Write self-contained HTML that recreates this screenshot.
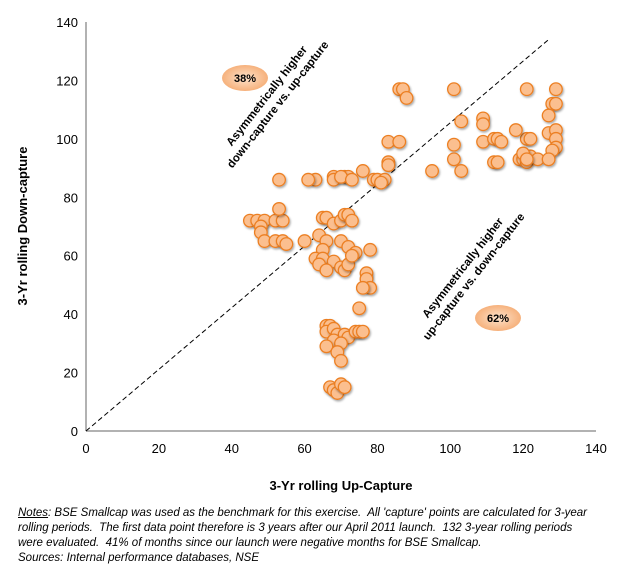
<!DOCTYPE html>
<html><head><meta charset="utf-8"><style>
body{margin:0;background:#fff;width:624px;height:583px;overflow:hidden;font-family:"Liberation Sans",sans-serif}
.notes{position:absolute;left:18px;top:506px;width:606px;font-size:11.5px;font-style:italic;line-height:15px;color:#000;white-space:nowrap}
</style></head><body>
<svg id="chart" width="624" height="500" style="position:absolute;left:0;top:0" font-family="Liberation Sans, sans-serif">
<defs><filter id="sh" x="-50%" y="-50%" width="200%" height="200%"><feDropShadow dx="1" dy="1.5" stdDeviation="1" flood-color="#000" flood-opacity="0.35"/></filter>
<radialGradient id="eg" cx="50%" cy="50%" r="50%"><stop offset="0" stop-color="#fde3cc"/><stop offset="1" stop-color="#f6b17c"/></radialGradient></defs>
<g id="axes"></g><g id="marks"></g><g id="ann"></g>
</svg>
<div class="notes"><u>Notes</u>: BSE Smallcap was used as the benchmark for this exercise.&nbsp; All 'capture' points are calculated for 3-year<br>rolling periods.&nbsp; The first data point therefore is 3 years after our April 2011 launch.&nbsp; 132 3-year rolling periods<br>were evaluated.&nbsp; 41% of months since our launch were negative months for BSE Smallcap.<br>Sources: Internal performance databases, NSE</div>
<script>
const xTicks=[0,20,40,60,80,100,120,140];
const yTicks=[0,20,40,60,80,100,120,140];
const upCapture=[86,87,88,101,121,129,128,129,127,103,109,109,83,86,101,109,112,113,114,121,122,118,127,129,129,129,128,101,112,113,119,120,121,122,124,127,95,103,120,121,
83,83,76,79,80,82,81,71,72,68,68,63,61,53,70,73,
45,47,49,48,48,52,54,53,49,52,54,55,60,64,65,66,68,70,71,72,73,66,65,70,72,74,78,63,65,68,70,71,72,73,64,66,77,77,78,76,75,
66,67,66,68,69,71,72,74,75,76,68,70,66,69,70,67,68,69,70,71];
const downCapture=[117,117,114,117,117,117,112,112,108,106,107,105,99,99,98,99,100,100,99,100,100,103,102,103,100,97,96,93,92,92,93,93,92,94,93,93,89,89,95,93,
92,91,89,86,86,86,85,87,87,87,86,86,86,86,87,86,
72,72,72,70,68,72,72,76,65,65,65,64,65,67,73,73,71,72,74,74,72,65,62,65,63,61,62,59,59,58,56,55,57,60,57,55,54,52,49,49,42,
36,36,34,35,33,33,32,34,34,34,31,30,29,27,24,15,14,13,16,15];
const diagEnd=[127,134];
const NS='http://www.w3.org/2000/svg';
const X0=86,X1=596,Y0=431,Y1=22;
const sx=v=>X0+(v-0)/140*(X1-X0);
const sy=v=>Y0-(v-0)/140*(Y0-Y1);
function mk(t,a,p){const e=document.createElementNS(NS,t);for(const k in a)e.setAttribute(k,a[k]);p.appendChild(e);return e;}
const ax=document.getElementById('axes');
let l=mk('line',{x1:X0,y1:Y1,x2:X0,y2:Y0,stroke:'#999','stroke-width':1.5},ax);


l=mk('line',{x1:X0,y1:Y0,x2:X1,y2:Y0,stroke:'#999','stroke-width':1.5},ax);


xTicks.forEach(v=>{const t=mk('text',{x:sx(v),y:Y0+22,'text-anchor':'middle','font-size':13},ax);t.textContent=v;

});
yTicks.forEach(v=>{const t=mk('text',{x:X0-8,y:sy(v)+5,'text-anchor':'end','font-size':13},ax);t.textContent=v;

});
let t=mk('text',{x:341,y:490,'text-anchor':'middle','font-size':13,'font-weight':'bold'},ax);t.textContent='3-Yr rolling Up-Capture';


t=mk('text',{x:0,y:0,'text-anchor':'middle','font-size':13,'font-weight':'bold',transform:'translate(27,226) rotate(-90)'},ax);t.textContent='3-Yr rolling Down-capture';


l=mk('line',{x1:sx(0),y1:sy(0),x2:sx(diagEnd[0]),y2:sy(diagEnd[1]),stroke:'#000','stroke-width':1,'stroke-dasharray':'5,3'},ax);


const mg=document.getElementById('marks');
upCapture.forEach((u,i)=>{const c=mk('circle',{cx:sx(u),cy:sy(downCapture[i]),r:6.3,fill:'#fbbf8f',stroke:'#ec7f22','stroke-width':1.3,filter:'url(#sh)'},mg);

});
const an=document.getElementById('ann');
function label(cx,cy,lines,name){const g=mk('g',{transform:`translate(${cx},${cy}) rotate(-52)`},an);


lines.forEach((s,i)=>{const tt=mk('text',{x:0,y:(i-0.5)*14+4,'text-anchor':'middle','font-size':11.5,'font-weight':'bold'},g);tt.textContent=s;});}
label(272,100,['Asymmetrically higher','down-capture vs. up-capture'],'upper-region-label');
label(468,272,['Asymmetrically higher','up-capture vs. down-capture'],'lower-region-label');
function pill(cx,cy,s,name){const g=mk('g',{},an);


mk('ellipse',{cx:cx,cy:cy,rx:23,ry:13,fill:'url(#eg)'},g);
const tt=mk('text',{x:cx,y:cy+4,'text-anchor':'middle','font-size':11,'font-weight':'bold'},g);tt.textContent=s;}
pill(245,78,'38%','pct-upper-badge');
pill(498,318,'62%','pct-lower-badge');
</script>
</body></html>
